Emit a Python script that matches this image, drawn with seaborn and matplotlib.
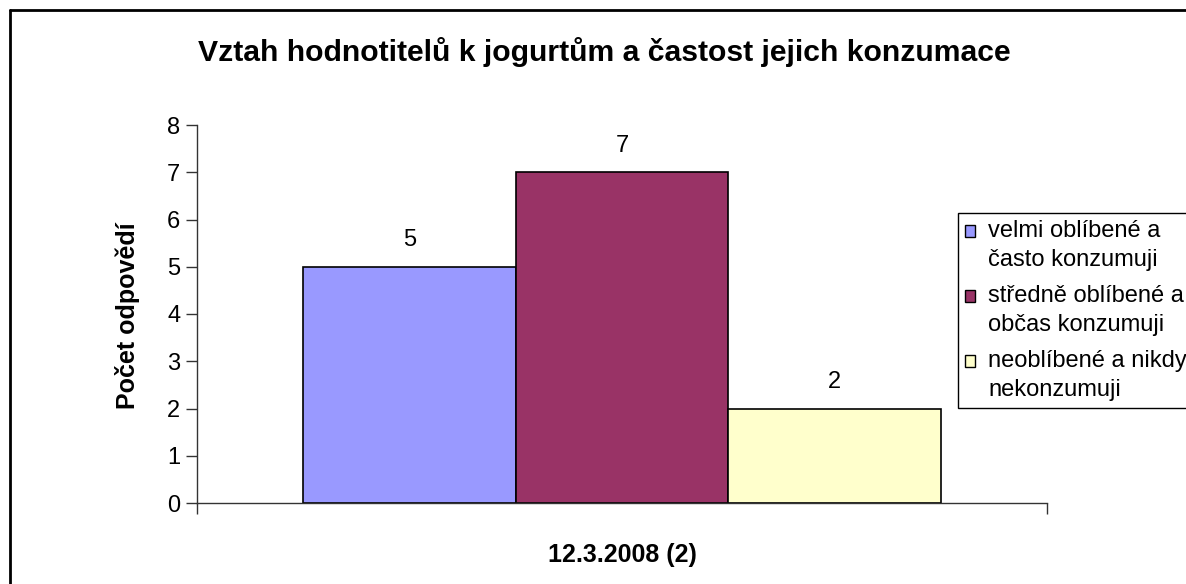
#!/usr/bin/env python3
"""Bar chart: Vztah hodnotitelů k jogurtům a častost jejich konzumace."""

import pandas as pd
import matplotlib
matplotlib.use("Agg")
import matplotlib.pyplot as plt
import matplotlib.patches as mpatches
from matplotlib.legend_handler import HandlerPatch
from matplotlib.lines import Line2D
import seaborn as sns

# --- Data ---
GROUPS = ["12.3.2008 (2)"]
ANSWERS = [
    "velmi oblíbené a\nčasto konzumuji",
    "středně oblíbené a\nobčas konzumuji",
    "neoblíbené a nikdy\nnekonzumuji",
]
COUNTS = [5, 7, 2]
COLORS = ["#9999FF", "#993366", "#FFFFCC"]

TITLE = "Vztah hodnotitelů k jogurtům a častost jejich konzumace"
Y_LABEL = "Počet odpovědí"


def first_line_square(legend, orig_handle, xdescent, ydescent, width, height, fontsize):
    # legend marker sits next to the first line of a two-line label (Excel style)
    return mpatches.Rectangle((-xdescent, -ydescent + 0.62 * fontsize), width, height)


def main() -> None:
    df = pd.DataFrame({
        "group": GROUPS * len(ANSWERS),
        "answer": ANSWERS,
        "count": COUNTS,
    })

    sns.set_style("white")
    plt.rcParams["font.family"] = ["Liberation Sans", "DejaVu Sans"]
    plt.rcParams["text.color"] = "black"
    plt.rcParams["ytick.color"] = "black"
    plt.rcParams["xtick.color"] = "black"

    fig = plt.figure(figsize=(11.86, 5.84), dpi=100)
    ax = fig.add_axes([197 / 1186, 1 - 503 / 584, 850 / 1186, 378 / 584])

    sns.barplot(
        data=df,
        x="group",
        y="count",
        hue="answer",
        hue_order=ANSWERS,
        palette=dict(zip(ANSWERS, COLORS)),
        width=0.75,
        edgecolor="black",
        linewidth=1.2,
        saturation=1,
        legend=False,
        ax=ax,
    )

    for container in ax.containers:
        ax.bar_label(container, padding=11, fontsize=17, color="black")

    ax.set_xlim(-0.5, 0.5)
    ax.set_ylim(0, 8)
    ax.set_yticks(range(0, 9))
    ax.set_xticks([-0.5, 0.5])
    ax.set_xticklabels(["", ""])
    ax.tick_params(axis="y", direction="out", length=8, width=1, color="#333333",
                   labelcolor="black", labelsize=17, pad=4, left=True)
    ax.tick_params(axis="x", direction="out", length=8, width=1, color="#333333",
                   bottom=True)

    for side in ["top", "right"]:
        ax.spines[side].set_visible(False)
    for side in ["left", "bottom"]:
        ax.spines[side].set_color("#333333")
        ax.spines[side].set_linewidth(1)

    ax.set_xlabel("")
    ax.set_ylabel("")
    fig.text(127 / 1186, 1 - 316 / 584, Y_LABEL, rotation=90, ha="center", va="center",
             fontsize=18, fontweight="bold")
    fig.text(622 / 1186, 1 - 555 / 584, GROUPS[0], ha="center", va="center",
             fontsize=18, fontweight="bold")
    fig.text(604 / 1186, 1 - 52 / 584, TITLE, ha="center", va="center",
             fontsize=21.7, fontweight="bold")

    handles = [mpatches.Patch(facecolor=c, edgecolor="black", linewidth=1) for c in COLORS]
    leg = ax.legend(
        handles,
        ANSWERS,
        loc="upper left",
        bbox_to_anchor=(958 / 1186, 1 - 213 / 584),
        bbox_transform=fig.transFigure,
        handler_map={mpatches.Patch: HandlerPatch(patch_func=first_line_square)},
        fontsize=17,
        frameon=True,
        fancybox=False,
        edgecolor="black",
        framealpha=1,
        handlelength=0.42,
        handleheight=0.42,
        handletextpad=0.55,
        labelspacing=0.62,
        borderpad=0.3,
        borderaxespad=0,
    )
    leg.get_frame().set_linewidth(1)
    for t in leg.get_texts():
        t.set_linespacing(1.38)

    # outer chart-area border (left and top edges visible)
    fig.add_artist(Line2D([10 / 1186, 10 / 1186], [0, 1 - 10 / 584],
                          transform=fig.transFigure, color="black", linewidth=2))
    fig.add_artist(Line2D([10 / 1186, 1], [1 - 10 / 584, 1 - 10 / 584],
                          transform=fig.transFigure, color="black", linewidth=2))

    fig.savefig("out.png", dpi=100)
    plt.close(fig)


if __name__ == "__main__":
    main()
